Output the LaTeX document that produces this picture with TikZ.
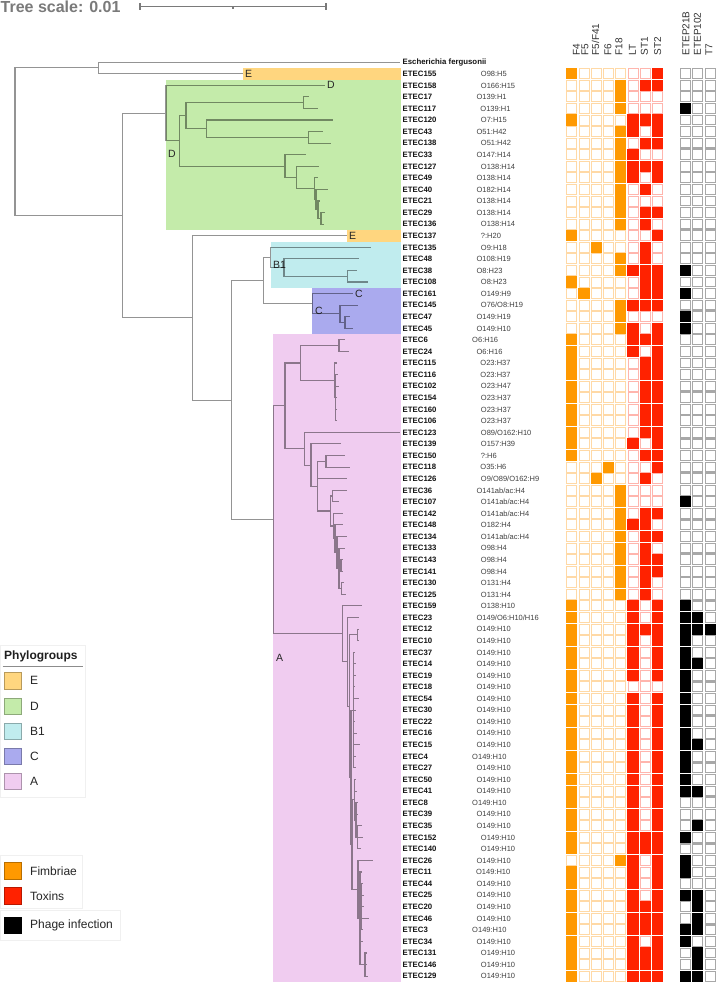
\documentclass[tikz,border=0pt]{standalone}
\usepackage{fontspec}
\setmainfont{Liberation Sans}
\definecolor{cE}{HTML}{FFD67F}
\definecolor{cD}{HTML}{C4EBAA}
\definecolor{cB}{HTML}{C0ECEE}
\definecolor{cC}{HTML}{AAAAEE}
\definecolor{cA}{HTML}{F0CCF0}
\definecolor{fim}{HTML}{FF9900}
\definecolor{fimB}{HTML}{FFD9A6}
\definecolor{tox}{HTML}{FF2200}
\definecolor{toxB}{HTML}{FFB5AD}
\definecolor{phB}{HTML}{A8A8A8}
\definecolor{scl}{HTML}{7A7A7A}
\newcommand\rowy[1]{(73.7+(#1-1)*11.57)}
\newcommand\fillcells[3]{\foreach \rw in {#3}{\fill[#2] ({#1-5.55},{\rowy{\rw}-5.55}) rectangle ({#1+5.55},{\rowy{\rw}+5.55});}}
\begin{document}
\begin{tikzpicture}[x=1pt,y=-1pt,
  treeline/.style={draw=black,draw opacity=0.42,line width=1.1pt},
  etec/.style={anchor=base west,inner sep=0pt,font=\fontsize{7.8}{9}\selectfont\bfseries,text=black!92},
  sero/.style={anchor=base west,inner sep=0pt,font=\fontsize{7.5}{9}\selectfont,text=black!75},
  hdr/.style={rotate=90,anchor=west,inner sep=0pt,font=\fontsize{10}{11}\selectfont,text=black!80},
  clab/.style={anchor=west,inner sep=0pt,font=\fontsize{10.5}{12}\selectfont,text=black!85},
  leg/.style={anchor=west,inner sep=0pt,font=\fontsize{12}{14}\selectfont,text=black!85},
  legbox/.style={line width=0.8pt}]
\useasboundingbox (0,0) rectangle (716,983);
\fill[white] (0,0) rectangle (716,983);

% ---------- scale ----------
\node[anchor=base west,inner sep=0pt,font=\fontsize{16}{18}\selectfont\bfseries,text=scl] (tscale) at (0.5,12.7) {Tree scale: 0.01};
\coordinate (sbA) at (140,6.7);
\coordinate (sbB) at (326,6.7);
\coordinate (sbM) at (233,6.7);
\draw[scl,line width=1.2pt] (sbA) -- (sbB);
\draw[scl,line width=1.2pt] ([yshift=3.6pt]sbA) -- ([yshift=-3.6pt]sbA);
\draw[scl,line width=1.2pt] ([yshift=3.6pt]sbB) -- ([yshift=-3.6pt]sbB);
\draw[scl,line width=1.2pt] (sbM) -- ([yshift=-2.6pt]sbM);

% ---------- clade bands ----------
\fill[cE] (242.7,67.9) rectangle (401,79.5);
\fill[cD] (166,79.5) rectangle (401,229.9);
\fill[cE] (347,229.9) rectangle (401,241.5);
\fill[cB] (270.7,241.5) rectangle (401,287.7);
\fill[cC] (312.3,287.7) rectangle (401,334.0);
\fill[cA] (273.3,334.0) rectangle (401,982);

\node[clab] (labE1) at (245,73.7) {E};
\node[clab] (labD1) at (327,85.3) {D};
\node[clab] (labD2) at (168,154.3) {D};
\node[clab] (labE2) at (349,235.7) {E};
\node[clab] (labB1) at (273,265) {B1};
\node[clab] (labC1) at (355,293.5) {C};
\node[clab] (labC2) at (315,311) {C};
\node[clab] (labA) at (276,658) {A};

% ---------- tree coordinates ----------
\coordinate (Root) at (15,141.7);
\coordinate (T1) at (98.3,67.9);
\coordinate (efer) at (400,62.13);
\coordinate (l155) at (242.7,73.70);
\coordinate (n1) at (122.7,215.5);
\coordinate (D) at (166,113.1);
\coordinate (l158) at (325,85.27);
\coordinate (d1) at (179.3,140.9);
\coordinate (d2) at (186,115.6);
\coordinate (d3) at (303.3,102.6);
\coordinate (l17) at (309.3,96.84);
\coordinate (l117) at (318.3,108.41);
\coordinate (d4) at (206.7,128.6);
\coordinate (l120) at (333.3,119.98);
\coordinate (d5) at (308.3,137.3);
\coordinate (l43) at (323.3,131.55);
\coordinate (l138) at (330.7,143.12);
\coordinate (d6b) at (285,166.1);
\coordinate (l33) at (305.7,154.69);
\coordinate (d6) at (296.7,177.5);
\coordinate (l127) at (319,166.26);
\coordinate (d7) at (314.3,188.7);
\coordinate (l49) at (318.3,177.83);
\coordinate (d8) at (316,199.5);
\coordinate (l40) at (328,189.40);
\coordinate (d9) at (318,209.6);
\coordinate (l21) at (320,200.97);
\coordinate (d10) at (321,218.3);
\coordinate (l29) at (325,212.54);
\coordinate (l136) at (324,224.11);
\coordinate (m) at (192.7,317.9);
\coordinate (l137) at (347,235.68);
\coordinate (bcA) at (231.7,400.2);
\coordinate (bc) at (263.3,280.5);
\coordinate (B1n) at (270.7,257.4);
\coordinate (l135) at (370.7,247.25);
\coordinate (b2) at (284,267.5);
\coordinate (l48) at (359,258.82);
\coordinate (b3) at (347.7,276.2);
\coordinate (l38) at (356.7,270.39);
\coordinate (l108) at (368.3,281.96);
\coordinate (Cn) at (312.3,303.7);
\coordinate (l161) at (353.3,293.53);
\coordinate (c2) at (340,313.8);
\coordinate (l145) at (358.3,305.10);
\coordinate (c3) at (345,322.5);
\coordinate (l47) at (350,316.67);
\coordinate (l45) at (352.7,328.24);
\coordinate (Ar) at (273.3,519.9);
\coordinate (a4) at (285,405.9);
\coordinate (a5) at (300.7,363);
\coordinate (a6) at (339,345.6);
\coordinate (l6) at (345,339.81);
\coordinate (l24) at (349.3,351.38);
\coordinate (a7) at (334.3,380.3);
\coordinate (l115) at (337.3,362.95);
\coordinate (a7b) at (335.5,397.7);
\coordinate (l116) at (338,374.52);
\coordinate (l102) at (338.7,386.09);
\coordinate (l154) at (336.8,397.66);
\coordinate (l160) at (337,409.23);
\coordinate (l106) at (336.5,420.80);
\coordinate (a9) at (304.3,448.7);
\coordinate (l123) at (400,432.37);
\coordinate (a10) at (311,465.1);
\coordinate (l139) at (340.7,443.94);
\coordinate (a12) at (317.3,486.2);
\coordinate (a11) at (326,461.3);
\coordinate (l150) at (345,455.51);
\coordinate (l118) at (350.3,467.08);
\coordinate (l126) at (347.3,478.65);
\coordinate (a13) at (330.7,511);
\coordinate (a14) at (332.7,496);
\coordinate (l36) at (346.7,490.22);
\coordinate (l107) at (339.3,501.79);
\coordinate (a15) at (333.5,526.0);
\coordinate (l142) at (343.3,513.36);
\coordinate (a15b) at (335,538.7);
\coordinate (l148) at (343.3,524.93);
\coordinate (a16) at (337,552.4);
\coordinate (l134) at (346.7,536.5);
\coordinate (a16b) at (339,568.3);
\coordinate (l133) at (345,548.07);
\coordinate (a17) at (341,565.4);
\coordinate (l143) at (343,559.64);
\coordinate (l141) at (342.5,571.21);
\coordinate (a18) at (341.5,588.6);
\coordinate (l130) at (344,582.78);
\coordinate (l125) at (346,594.35);
\coordinate (a2) at (342.3,633.9);
\coordinate (l159) at (361.7,605.92);
\coordinate (e00) at (347.3,661.8);
\coordinate (l23) at (359.3,617.49);
\coordinate (e0) at (349.3,706.1);
\coordinate (e1) at (357.3,634.85);
\coordinate (l12) at (358.5,629.06);
\coordinate (l10) at (358.5,640.63);
\coordinate (f1) at (351,777.3);
\coordinate (g1) at (353.5,710.05);
\coordinate (l37) at (355,652.20);
\coordinate (l14) at (355.5,663.77);
\coordinate (l19) at (356,675.34);
\coordinate (l18) at (355,686.91);
\coordinate (l54) at (359,698.48);
\coordinate (l30) at (356,710.05);
\coordinate (l22) at (355,721.62);
\coordinate (l16) at (357,733.19);
\coordinate (l15) at (360,744.76);
\coordinate (l4) at (355.5,756.33);
\coordinate (l27) at (356,767.90);
\coordinate (g2) at (352,844.55);
\coordinate (h0) at (354.5,799.7);
\coordinate (l50) at (356,779.47);
\coordinate (l41) at (357,791.04);
\coordinate (h1) at (356,820);
\coordinate (l8) at (358,802.61);
\coordinate (l39) at (357.5,814.18);
\coordinate (h2) at (357.3,837.3);
\coordinate (l35) at (362,825.75);
\coordinate (l152) at (363.3,837.32);
\coordinate (l140) at (361,848.89);
\coordinate (j1) at (358,889.4);
\coordinate (l26) at (373.3,860.46);
\coordinate (k1) at (360,918.3);
\coordinate (l11) at (362,872.03);
\coordinate (k2) at (361,906.7);
\coordinate (l44) at (363,883.60);
\coordinate (l25) at (364,895.17);
\coordinate (l20) at (363.5,906.74);
\coordinate (l46) at (369.3,918.31);
\coordinate (l3) at (363,929.88);
\coordinate (l34) at (362.5,941.45);
\coordinate (k3) at (365,964.6);
\coordinate (l131) at (367,953.02);
\coordinate (l146) at (366.5,964.59);
\coordinate (l129) at (367.5,976.16);

% ---------- tree branches ----------
\draw[treeline]
 (Root) |- (T1) (Root) |- (n1)
 (T1) |- (efer) (T1) |- (l155)
 (n1) |- (D) (n1) |- (m)
 (D) |- (l158) (D) |- (d1)
 (d1) |- (d2) (d1) |- (d6b)
 (d2) |- (d3) (d2) |- (d4)
 (d3) |- (l17) (d3) |- (l117)
 (d4) |- (l120) (d4) |- (d5)
 (d5) |- (l43) (d5) |- (l138)
 (d6b) |- (l33) (d6b) |- (d6)
 (d6) |- (l127) (d6) |- (d7)
 (d7) |- (l49) (d7) |- (d8)
 (d8) |- (l40) (d8) |- (d9)
 (d9) |- (l21) (d9) |- (d10)
 (d10) |- (l29) (d10) |- (l136)
 (m) |- (l137) (m) |- (bcA)
 (bcA) |- (bc) (bcA) |- (Ar)
 (bc) |- (B1n) (bc) |- (Cn)
 (B1n) |- (l135) (B1n) |- (b2)
 (b2) |- (l48) (b2) |- (b3)
 (b3) |- (l38) (b3) |- (l108)
 (Cn) |- (l161) (Cn) |- (c2)
 (c2) |- (l145) (c2) |- (c3)
 (c3) |- (l47) (c3) |- (l45)
 (Ar) |- (a4) (Ar) |- (a2)
 (a4) |- (a5) (a4) |- (a9)
 (a5) |- (a6) (a5) |- (a7)
 (a6) |- (l6) (a6) |- (l24)
 (a7) |- (l115) (a7) |- (a7b)
 (a7b) |- (l116) (a7b) |- (l102) (a7b) |- (l154) (a7b) |- (l160) (a7b) |- (l106)
 (a9) |- (l123) (a9) |- (a10)
 (a10) |- (l139) (a10) |- (a12)
 (a12) |- (a11) (a12) |- (l126) (a12) |- (a13)
 (a11) |- (l150) (a11) |- (l118)
 (a13) |- (a14) (a13) |- (a15)
 (a14) |- (l36) (a14) |- (l107)
 (a15) |- (l142) (a15) |- (a15b)
 (a15b) |- (l148) (a15b) |- (a16)
 (a16) |- (l134) (a16) |- (a16b)
 (a16b) |- (l133) (a16b) |- (a17) (a16b) |- (a18)
 (a17) |- (l143) (a17) |- (l141)
 (a18) |- (l130) (a18) |- (l125)
 (a2) |- (l159) (a2) |- (e00)
 (e00) |- (l23) (e00) |- (e0)
 (e0) |- (e1) (e0) |- (f1)
 (e1) |- (l12) (e1) |- (l10)
 (f1) |- (g1) (f1) |- (g2)
 (g1) |- (l37) (g1) |- (l14) (g1) |- (l19) (g1) |- (l18) (g1) |- (l54) (g1) |- (l30)
 (g1) |- (l22) (g1) |- (l16) (g1) |- (l15) (g1) |- (l4) (g1) |- (l27)
 (g2) |- (h0) (g2) |- (j1)
 (h0) |- (l50) (h0) |- (l41) (h0) |- (h1)
 (h1) |- (l8) (h1) |- (l39) (h1) |- (h2)
 (h2) |- (l35) (h2) |- (l152) (h2) |- (l140)
 (j1) |- (l26) (j1) |- (k1)
 (k1) |- (l11) (k1) |- (k2) (k1) |- (l34) (k1) |- (k3)
 (k2) |- (l44) (k2) |- (l25) (k2) |- (l20) (k2) |- (l46) (k2) |- (l3)
 (k3) |- (l131) (k3) |- (l146) (k3) |- (l129);

% ---------- leaf labels ----------
\node[etec] (nEfer) at (402.5,64.9) {Escherichia fergusonii};
\foreach \i/\nm/\sr in {1/ETEC155/O98:H5, 2/ETEC158/O166:H15, 3/ETEC17/O139:H1, 4/ETEC117/O139:H1,
 5/ETEC120/O7:H15, 6/ETEC43/O51:H42, 7/ETEC138/O51:H42, 8/ETEC33/O147:H14, 9/ETEC127/O138:H14,
 10/ETEC49/O138:H14, 11/ETEC40/O182:H14, 12/ETEC21/O138:H14, 13/ETEC29/O138:H14, 14/ETEC136/O138:H14,
 15/ETEC137/?:H20, 16/ETEC135/O9:H18, 17/ETEC48/O108:H19, 18/ETEC38/O8:H23, 19/ETEC108/O8:H23,
 20/ETEC161/O149:H9, 21/ETEC145/{O76/O8:H19}, 22/ETEC47/O149:H19, 23/ETEC45/O149:H10, 24/ETEC6/O6:H16,
 25/ETEC24/O6:H16, 26/ETEC115/O23:H37, 27/ETEC116/O23:H37, 28/ETEC102/O23:H47, 29/ETEC154/O23:H37,
 30/ETEC160/O23:H37, 31/ETEC106/O23:H37, 32/ETEC123/{O89/O162:H10}, 33/ETEC139/O157:H39, 34/ETEC150/?:H6,
 35/ETEC118/O35:H6, 36/ETEC126/{O9/O89/O162:H9}, 37/ETEC36/{O141ab/ac:H4}, 38/ETEC107/{O141ab/ac:H4},
 39/ETEC142/{O141ab/ac:H4}, 40/ETEC148/O182:H4, 41/ETEC134/{O141ab/ac:H4}, 42/ETEC133/O98:H4,
 43/ETEC143/O98:H4, 44/ETEC141/O98:H4, 45/ETEC130/O131:H4, 46/ETEC125/O131:H4, 47/ETEC159/O138:H10,
 48/ETEC23/{O149/O6:H10/H16}, 49/ETEC12/O149:H10, 50/ETEC10/O149:H10, 51/ETEC37/O149:H10,
 52/ETEC14/O149:H10, 53/ETEC19/O149:H10, 54/ETEC18/O149:H10, 55/ETEC54/O149:H10, 56/ETEC30/O149:H10,
 57/ETEC22/O149:H10, 58/ETEC16/O149:H10, 59/ETEC15/O149:H10, 60/ETEC4/O149:H10, 61/ETEC27/O149:H10,
 62/ETEC50/O149:H10, 63/ETEC41/O149:H10, 64/ETEC8/O149:H10, 65/ETEC39/O149:H10, 66/ETEC35/O149:H10,
 67/ETEC152/O149:H10, 68/ETEC140/O149:H10, 69/ETEC26/O149:H10, 70/ETEC11/O149:H10, 71/ETEC44/O149:H10,
 72/ETEC25/O149:H10, 73/ETEC20/O149:H10, 74/ETEC46/O149:H10, 75/ETEC3/O149:H10, 76/ETEC34/O149:H10,
 77/ETEC131/O149:H10, 78/ETEC146/O149:H10, 79/ETEC129/O149:H10}{
  \node[etec] (nm\i) at (402.5,{\rowy{\i}+2.8}) {\nm};
  \node[sero] (sr\i) at ([xshift=44pt]nm\i.base east) {\sr};
}

% ---------- heatmap headers ----------
\foreach \hx/\hlab/\hnm in {576.5/F4/hF4, 585/F5/hF5, 595.5/F5\slash F41/hF541, 608/F6/hF6, 619/F18/hF18,
  632.5/LT/hLT, 644.5/ST1/hST1, 657.7/ST2/hST2, 686/ETEP21B/hP21, 697.5/ETEP102/hP102, 709/T7/hT7}{
  \node[hdr] (\hnm) at (\hx,55.5) {\hlab};
}

% ---------- heatmap cells ----------
\foreach \rw in {1,...,79}{
  \foreach \cx in {571.7,584,596.2,608.5,620.7}{
    \draw[fimB,line width=0.9pt,fill=white] ({\cx-5},{\rowy{\rw}-5}) rectangle ({\cx+5},{\rowy{\rw}+5});}
  \foreach \cx in {633,645.3,657.5}{
    \draw[toxB,line width=0.9pt,fill=white] ({\cx-5},{\rowy{\rw}-5}) rectangle ({\cx+5},{\rowy{\rw}+5});}
  \foreach \cx in {685.5,697.8,710.2}{
    \draw[phB,line width=1.1pt,fill=white] ({\cx-4.9},{\rowy{\rw}-4.9}) rectangle ({\cx+4.9},{\rowy{\rw}+4.9});}
}
\fillcells{571.7}{fim}{1,5,15,19,24,25,26,27,28,29,30,31,32,33,34,47,48,49,50,51,52,53,54,55,56,57,58,59,60,61,62,63,64,65,66,67,68,70,71,72,73,74,75,76,77,78,79}
\fillcells{584}{fim}{20}
\fillcells{596.2}{fim}{16,36}
\fillcells{608.5}{fim}{35}
\fillcells{620.7}{fim}{2,3,4,6,7,8,9,10,11,12,13,14,17,18,21,22,23,37,38,39,40,41,42,43,44,45,46,69}
\fillcells{633}{tox}{5,6,8,9,10,18,21,23,24,25,33,40,47,48,49,50,51,52,53,55,56,57,58,59,60,61,62,63,64,65,66,67,68,69,70,71,72,73,74,75,76,77,78,79}
\fillcells{645.3}{tox}{2,5,7,9,11,13,14,16,17,18,19,20,21,24,26,27,28,29,30,31,32,34,36,39,40,41,42,43,44,45,46,49,67,68,73,74,75,77,78,79}
\fillcells{657.5}{tox}{1,2,5,6,7,9,10,13,15,18,19,20,21,23,24,25,26,27,28,29,30,31,32,33,34,35,39,41,43,44,47,48,49,50,51,52,53,55,56,57,58,59,60,61,62,63,64,65,66,67,68,69,70,71,72,73,74,75,76,77,78,79}
\fillcells{685.5}{black}{4,18,20,22,23,38,47,48,49,50,51,52,53,54,55,56,57,58,59,60,61,62,63,67,69,70,72,75,76,79}
\fillcells{697.8}{black}{48,49,52,59,63,66,72,73,74,75,77,78,79}
\fillcells{710.2}{black}{49}

% ---------- legends ----------
\draw[black!6,line width=0.8pt] (0.5,645) rectangle (85,797);
\draw[black!6,line width=0.8pt] (0.5,855) rectangle (82,908);
\draw[black!6,line width=0.8pt] (0.5,910) rectangle (120,940);
\node[anchor=base west,inner sep=0pt,font=\fontsize{12}{14}\selectfont\bfseries,text=black!88] (phy) at (4,659.5) {Phylogroups};
\coordinate (ulA) at (2.7,666);
\coordinate (ulB) at (82.7,666);
\draw[black!45,line width=1pt] (ulA) -- (ulB);
\foreach \lgy/\lgc/\lgt/\lgn in {680.8/cE/E/gE, 706.3/cD/D/gD, 731.3/cB/B1/gB, 756.3/cC/C/gC, 781.5/cA/A/gA,
   870.8/fim/Fimbriae/gF, 895.8/tox/Toxins/gT, 925.3/black/Phage infection/gP}{
  \draw[legbox,draw=\lgc!72!black,fill=\lgc] (4.4,{\lgy-8.3}) rectangle (21,{\lgy+8.3});
  \node[leg] (\lgn) at (30,\lgy) {\lgt};
}
\end{tikzpicture}
\end{document}
